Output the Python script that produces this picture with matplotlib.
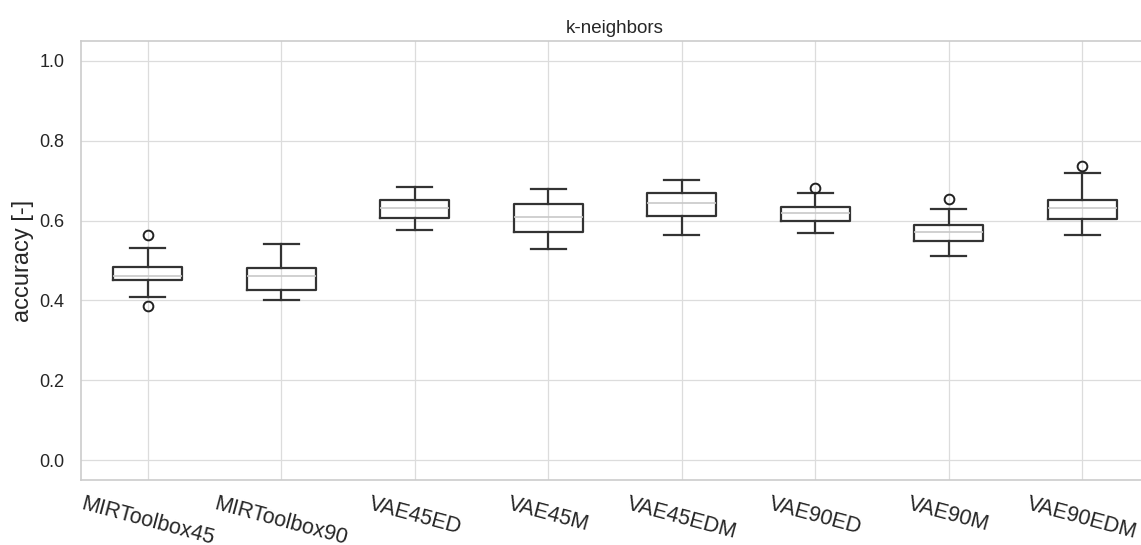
import matplotlib.pyplot as plt

# box statistics (accuracy values)
labels = ['MIRToolbox45', 'MIRToolbox90', 'VAE45ED', 'VAE45M',
          'VAE45EDM', 'VAE90ED', 'VAE90M', 'VAE90EDM']
whislo = [0.409, 0.402, 0.576, 0.530, 0.564, 0.568, 0.512, 0.564]
q1 = [0.451, 0.427, 0.607, 0.572, 0.611, 0.599, 0.548, 0.605]
med = [0.462, 0.461, 0.631, 0.609, 0.645, 0.618, 0.572, 0.632]
q3 = [0.484, 0.480, 0.651, 0.641, 0.670, 0.634, 0.590, 0.651]
whishi = [0.531, 0.541, 0.685, 0.678, 0.702, 0.668, 0.629, 0.718]
fliers = [[0.564, 0.387], [], [], [], [], [0.681], [0.653], [0.737]]


def main():
    plt.rcParams['font.family'] = ['Liberation Sans', 'DejaVu Sans']
    fig = plt.figure(figsize=(11.41, 5.45), dpi=100)
    # the reference is cropped on the right, so the axes run past the edge
    ax = fig.add_axes([0.071, 0.1193, 0.936, 0.8055])

    stats = []
    for i in range(len(labels)):
        stats.append({
            'label': labels[i],
            'whislo': whislo[i],
            'q1': q1[i],
            'med': med[i],
            'q3': q3[i],
            'whishi': whishi[i],
            'fliers': fliers[i],
        })

    line = dict(color='#333333', linewidth=1.6)
    ax.bxp(stats, widths=0.52, boxprops=line, whiskerprops=line,
           capprops=line,
           medianprops=dict(color='#c8c8c8', linewidth=1.2),
           flierprops=dict(marker='o', markerfacecolor='none',
                           markeredgecolor='#222222', markersize=7,
                           markeredgewidth=1.4))

    ax.set_xlim(0.5, 8.5)
    ax.set_ylim(-0.05, 1.05)
    ax.set_yticks([0.0, 0.2, 0.4, 0.6, 0.8, 1.0])
    ax.grid(True, color='#dcdcdc', linewidth=0.9)
    ax.set_axisbelow(True)
    for sp in ax.spines.values():
        sp.set_color('#cccccc')
        sp.set_linewidth(1.2)

    ax.tick_params(axis='both', length=0, colors='#262626')
    ax.tick_params(axis='y', labelsize=13, pad=12)
    ax.tick_params(axis='x', labelsize=15.5, pad=10)
    plt.setp(ax.get_xticklabels(), rotation=-15, ha='center',
             rotation_mode='default')

    ax.set_ylabel('accuracy [-]', fontsize=17, color='#262626')
    ax.yaxis.set_label_coords(-0.044, 0.5)
    ax.set_title('k-neighbors', fontsize=13.5, color='#262626')

    fig.savefig('out.png', dpi=100)


if __name__ == "__main__":
    main()
